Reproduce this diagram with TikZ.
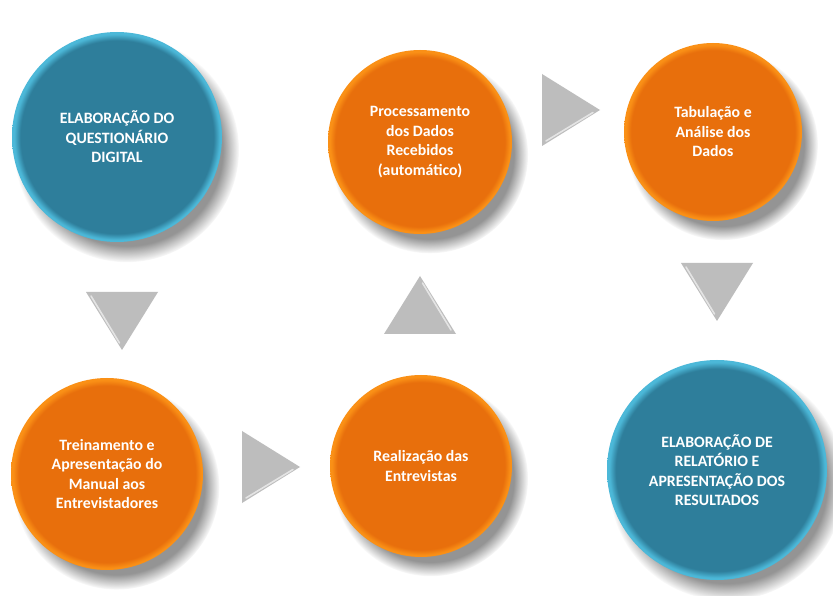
\documentclass[tikz,border=0pt]{standalone}
\usepackage{fontspec}
\setmainfont{Carlito}
\usetikzlibrary{shadows}
\definecolor{tealbase}{HTML}{2E7E9B}
\definecolor{tealrim}{HTML}{4CB8D8}
\definecolor{orangebase}{HTML}{E86F0C}
\definecolor{orangerim}{HTML}{FA9016}
\definecolor{arrowgray}{HTML}{BDBDBD}
\pgfdeclareradialshading{tealglow}{\pgfpointorigin}{color(0bp)=(tealbase); color(23bp)=(tealbase); color(24.5bp)=(tealrim); color(25bp)=(tealrim); color(50bp)=(tealrim)}
\pgfdeclareradialshading{orangeglow}{\pgfpointorigin}{color(0bp)=(orangebase); color(23bp)=(orangebase); color(24.5bp)=(orangerim); color(25bp)=(orangerim); color(50bp)=(orangerim)}
\tikzset{
  stage/.style={circle,inner sep=0pt,align=center,text=white,
    font=\bfseries\fontsize{15.8}{19.5}\selectfont,
    circular drop shadow={shadow xshift=9pt,shadow yshift=-12pt,shadow scale=1.07,fill=black!42}},
  bluestage/.style={stage,shade,shading=tealglow},
  orangestage/.style={stage,shade,shading=orangeglow},
  flowtri/.pic={
    \fill[arrowgray] (-29,-36) -- (29,0) -- (-29,36) -- cycle;
    \draw[white,opacity=.6,line width=1.6pt,line cap=round] (-25,-31) -- (22,-2.5);
  },
}

\begin{document}
\begin{tikzpicture}[x=1pt,y=1pt]
  \fill[white] (0,0) rectangle (833,595);
  \useasboundingbox (0,0) rectangle (833,595);
  \node[bluestage,minimum size=210pt] (quest) at (117,458) {ELABORAÇÃO DO\\QUESTIONÁRIO\\DIGITAL};
  \node[orangestage,minimum size=184pt] (proc) at (420,453) {Processamento\\dos Dados\\Recebidos\\(automático)};
  \node[orangestage,minimum size=178pt] (tab) at (713,463) {Tabulação e\\Análise dos\\Dados};
  \node[orangestage,minimum size=192pt] (trein) at (107,121) {Treinamento e\\Apresentação do\\Manual aos\\Entrevistadores};
  \node[orangestage,minimum size=182pt] (real) at (421,129) {Realização das\\Entrevistas};
  \node[bluestage,minimum size=220pt] (relat) at (717,125) {ELABORAÇÃO DE\\RELATÓRIO E\\APRESENTAÇÃO DOS\\RESULTADOS};

  \pic[rotate=-90] at (122,274) {flowtri};
  \pic at (271,128) {flowtri};
  \pic[rotate=90] at (420,290) {flowtri};
  \pic at (571,485) {flowtri};
  \pic[rotate=-90] at (717,303) {flowtri};
\end{tikzpicture}
\end{document}
